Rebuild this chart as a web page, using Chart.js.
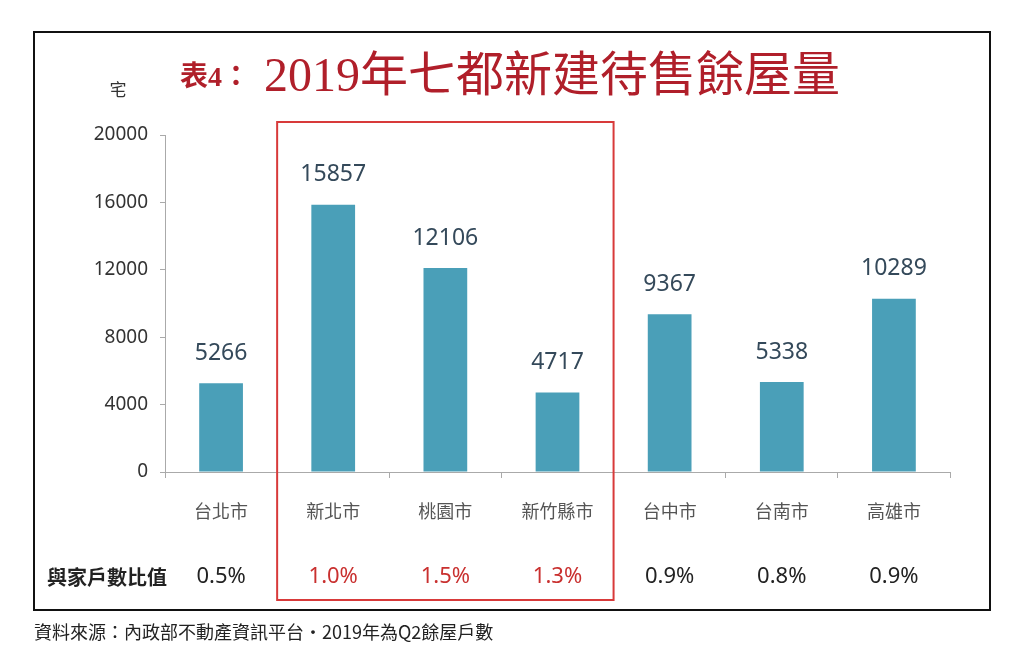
<!DOCTYPE html>
<html>
<head>
<meta charset="utf-8">
<script src="https://cdn.jsdelivr.net/npm/chart.js@4"></script>
<style>
  html, body { margin: 0; padding: 0; background: #fff; }
</style>
</head>
<body>
<canvas id="myChart" width="1024" height="652"></canvas>
<script>
// chart data
const cities = ['台北市', '新北市', '桃園市', '新竹縣市', '台中市', '台南市', '高雄市'];
const unsold = [5266, 15857, 12106, 4717, 9367, 5338, 10289];
const ratioLabels = ['0.5%', '1.0%', '1.5%', '1.3%', '0.9%', '0.8%', '0.9%'];
const highlighted = [1, 2, 3];
const yTicks = [0, 4000, 8000, 12000, 16000, 20000];

const barColor = '#4a9fb8';
const red = '#c9302f';

// frame, title, highlight box, ratio row, source
const decorPlugin = {
  id: 'decor',
  afterDraw(chart) {
    const c = chart.ctx;
    const x = chart.scales.x;
    c.save();
    // outer frame
    c.strokeStyle = '#111';
    c.lineWidth = 2;
    c.strokeRect(34, 32, 956, 578);

    // title
    c.fillStyle = '#b01f2a';
    c.textBaseline = 'alphabetic';
    c.textAlign = 'left';
    c.font = 'bold 28px "Liberation Serif", "Noto Sans CJK TC", serif';
    c.fillText('表4：', 180, 86);
    c.font = '48px "Liberation Serif", "Noto Sans CJK TC", serif';
    c.fillText('2019年七都新建待售餘屋量', 264, 91);

    // unit
    c.fillStyle = '#333';
    c.font = '17px "Noto Sans CJK TC", sans-serif';
    c.textAlign = 'center';
    c.textBaseline = 'middle';
    c.fillText('宅', 118, 90);

    // highlight box around the boxed cities
    const first = highlighted[0], last = highlighted[highlighted.length - 1];
    const left = (x.getPixelForValue(first - 1) + x.getPixelForValue(first)) / 2;
    const right = (x.getPixelForValue(last) + x.getPixelForValue(last + 1)) / 2;
    c.strokeStyle = '#d83a3a';
    c.lineWidth = 2;
    c.strokeRect(left, 122, right - left, 478);

    // ratio row
    c.fillStyle = '#222';
    c.font = 'bold 20px "Noto Sans CJK TC", sans-serif';
    c.textAlign = 'left';
    c.fillText('與家戶數比值', 47, 577);
    c.font = '22px "Noto Sans", sans-serif';
    c.textAlign = 'center';
    ratioLabels.forEach((r, i) => {
      c.fillStyle = highlighted.includes(i) ? red : '#222';
      c.fillText(r, x.getPixelForValue(i), 577);
    });

    // source
    c.fillStyle = '#222';
    c.font = '18px "Noto Sans CJK TC", sans-serif';
    c.textAlign = 'left';
    c.fillText('資料來源：內政部不動產資訊平台‧2019年為Q2餘屋戶數', 34, 632);
    c.restore();
  }
};

// numbers above bars
const valuePlugin = {
  id: 'values',
  afterDatasetsDraw(chart) {
    const c = chart.ctx;
    const meta = chart.getDatasetMeta(0);
    c.save();
    c.fillStyle = '#34495a';
    c.font = '23px "Noto Sans", sans-serif';
    c.textAlign = 'center';
    c.textBaseline = 'middle';
    meta.data.forEach((bar, i) => {
      c.fillText(String(unsold[i]), bar.x, bar.y - 30);
    });
    c.restore();
  }
};

const ctx = document.getElementById('myChart');
let myChart = new Chart(ctx, {
  type: 'bar',
  data: {
    labels: cities,
    datasets: [{
      data: unsold,
      backgroundColor: barColor,
      barPercentage: 0.78,
      categoryPercentage: 0.5
    }]
  },
  options: {
    responsive: false,
    animation: false,
    devicePixelRatio: 1,
    layout: { padding: { left: 0, top: 135, right: 74, bottom: 0 } },
    plugins: { legend: { display: false }, tooltip: { enabled: false } },
    scales: {
      x: {
        afterFit(s) { s.height = 180; },
        grid: { drawOnChartArea: false, tickLength: 6, color: '#aaa' },
        border: { color: '#aaa' },
        ticks: {
          padding: 22,
          color: '#555',
          font: { size: 18, family: '"Noto Sans CJK TC", sans-serif' }
        }
      },
      y: {
        min: 0,
        max: 20000,
        afterFit(s) { s.width = 165; },
        afterBuildTicks(s) { s.ticks = yTicks.map(v => ({ value: v })); },
        grid: { drawOnChartArea: false, tickLength: 5, color: '#aaa' },
        border: { color: '#aaa' },
        ticks: {
          padding: 12,
          color: '#333',
          font: { size: 19, family: '"Noto Sans", sans-serif' },
          callback: v => String(v)
        }
      }
    }
  },
  plugins: [decorPlugin, valuePlugin]
});
</script>
</body>
</html>
